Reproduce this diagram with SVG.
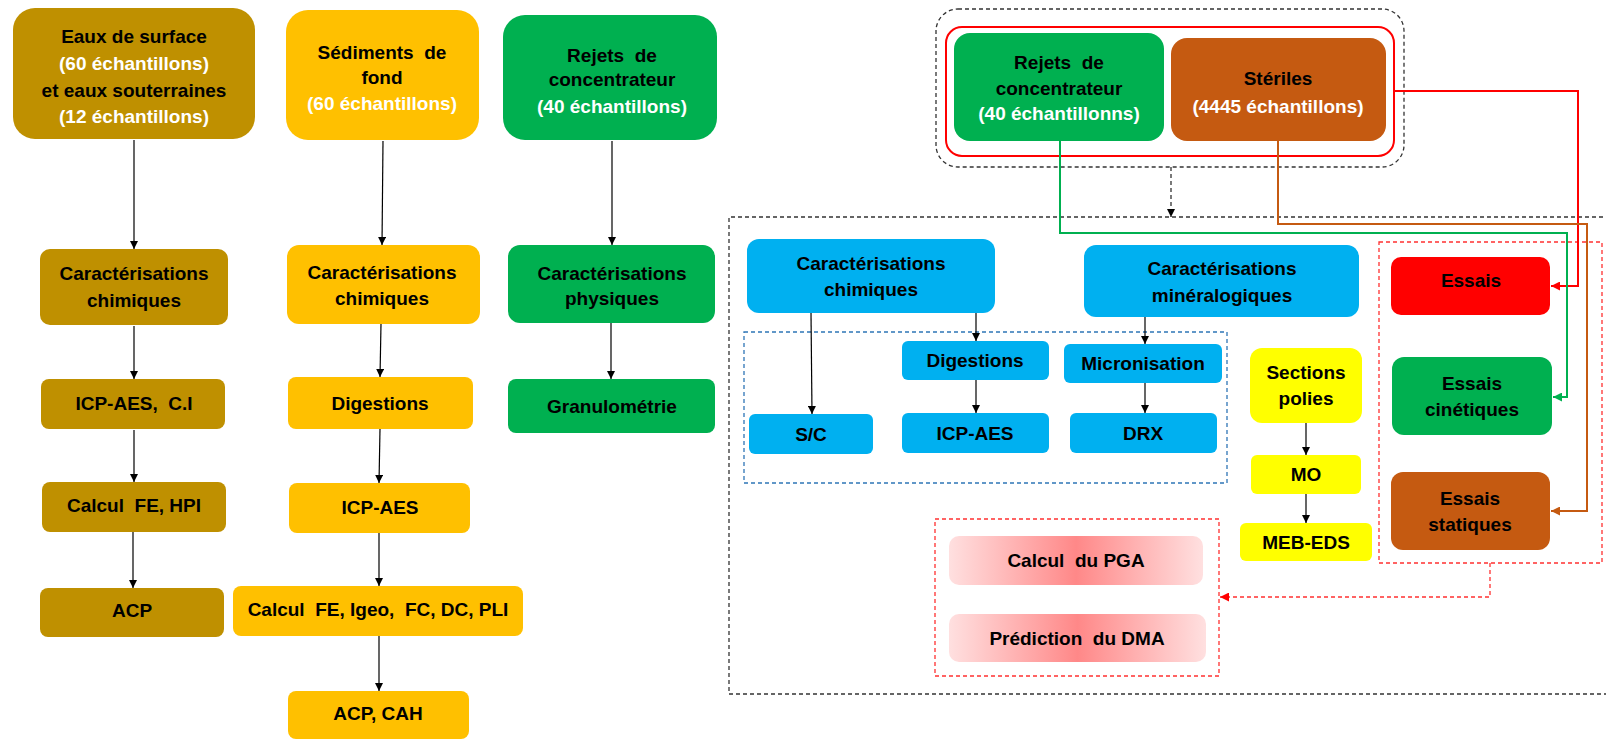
<svg xmlns="http://www.w3.org/2000/svg" width="1606" height="739" viewBox="0 0 1606 739">
<defs>
<style>
text{font-family:"Liberation Sans",Arial,sans-serif;font-weight:bold;font-size:19px;text-anchor:middle;fill:#000}
.w{fill:#fff}
.gold{fill:#BF9000}
.yel{fill:#FFC000}
.grn{fill:#00B050}
.blu{fill:#00B0F0}
.ylw{fill:#FFFF00}
.red{fill:#FF0000}
.brn{fill:#C55A11}
.pink{fill:url(#pinkg)}
.arr{stroke:#000;stroke-width:1.2;fill:none;marker-end:url(#ah)}
.dash{fill:none;stroke:#333;stroke-width:1.3;stroke-dasharray:4 3}
.rdash{fill:none;stroke:#FF3030;stroke-width:1.3;stroke-dasharray:4 3}
.bdash{fill:none;stroke:#2E75B6;stroke-width:1.3;stroke-dasharray:4 3}
</style>
<marker id="ah" viewBox="0 0 10 10" refX="10" refY="5" markerWidth="8" markerHeight="8" markerUnits="userSpaceOnUse" orient="auto"><path d="M0,0L10,5L0,10z" fill="#000"/></marker>
<marker id="ahr" viewBox="0 0 10 10" refX="10" refY="5" markerWidth="9" markerHeight="9" markerUnits="userSpaceOnUse" orient="auto"><path d="M0,0L10,5L0,10z" fill="#FF0000"/></marker>
<marker id="ahg" viewBox="0 0 10 10" refX="10" refY="5" markerWidth="9" markerHeight="9" markerUnits="userSpaceOnUse" orient="auto"><path d="M0,0L10,5L0,10z" fill="#00B050"/></marker>
<marker id="ahb" viewBox="0 0 10 10" refX="10" refY="5" markerWidth="9" markerHeight="9" markerUnits="userSpaceOnUse" orient="auto"><path d="M0,0L10,5L0,10z" fill="#C55A11"/></marker>
<linearGradient id="pinkg" x1="0" y1="0" x2="1" y2="0"><stop offset="0" stop-color="#FFE0E0"/><stop offset="0.5" stop-color="#FF8888"/><stop offset="1" stop-color="#FFE0E0"/></linearGradient>
</defs>

<!-- containers -->
<g id="containers">
<rect x="936" y="9" width="468" height="158" rx="22" class="dash"/>
<rect x="946" y="27" width="448" height="129" rx="16" fill="none" stroke="#FF0000" stroke-width="2"/>
<path d="M1610,217H729V694H1610" class="dash"/>
<rect x="744" y="332" width="483" height="151" class="bdash"/>
<rect x="1379" y="242" width="223" height="321" class="rdash"/>
<rect x="935" y="519" width="284" height="157" class="rdash"/>
</g>

<!-- left column 1 -->
<g id="eaux"><rect x="13" y="8" width="242" height="131" rx="22" class="gold"/>
<text x="134" y="43">Eaux de surface</text><text x="134" y="70" class="w">(60 échantillons)</text><text x="134" y="97">et eaux souterraines</text><text x="134" y="123" class="w">(12 échantillons)</text></g>
<g id="eaux-caract"><rect x="40" y="249" width="188" height="76" rx="10" class="gold"/><text x="134" y="280">Caractérisations</text><text x="134" y="307">chimiques</text></g>
<g id="eaux-icp"><rect x="41" y="379" width="184" height="50" rx="8" class="gold"/><text x="134" y="410" xml:space="preserve">ICP-AES,  C.I</text></g>
<g id="eaux-calcul"><rect x="42" y="482" width="184" height="50" rx="8" class="gold"/><text x="134" y="512" xml:space="preserve">Calcul  FE, HPI</text></g>
<g id="eaux-acp"><rect x="40" y="588" width="184" height="49" rx="8" class="gold"/><text x="132" y="617">ACP</text></g>

<!-- left column 2 -->
<g id="sed"><rect x="286" y="10" width="193" height="130" rx="22" class="yel"/>
<text x="382" y="59" xml:space="preserve">Sédiments  de</text><text x="382" y="84">fond</text><text x="382" y="110" class="w">(60 échantillons)</text></g>
<g id="sed-caract"><rect x="287" y="245" width="193" height="79" rx="12" class="yel"/><text x="382" y="279">Caractérisations</text><text x="382" y="305">chimiques</text></g>
<g id="sed-dig"><rect x="288" y="377" width="185" height="52" rx="8" class="yel"/><text x="380" y="410">Digestions</text></g>
<g id="sed-icp"><rect x="289" y="483" width="181" height="50" rx="8" class="yel"/><text x="380" y="514">ICP-AES</text></g>
<g id="sed-calcul"><rect x="233" y="586" width="290" height="50" rx="8" class="yel"/><text x="378" y="616" xml:space="preserve">Calcul  FE, Igeo,  FC, DC, PLI</text></g>
<g id="sed-acp"><rect x="288" y="691" width="181" height="48" rx="8" class="yel"/><text x="378" y="720">ACP, CAH</text></g>

<!-- left column 3 -->
<g id="rej"><rect x="503" y="15" width="214" height="125" rx="22" class="grn"/>
<text x="612" y="62" xml:space="preserve">Rejets  de</text><text x="612" y="86">concentrateur</text><text x="612" y="113" class="w">(40 échantillons)</text></g>
<g id="rej-caract"><rect x="508" y="245" width="207" height="78" rx="12" class="grn"/><text x="612" y="280">Caractérisations</text><text x="612" y="305">physiques</text></g>
<g id="rej-gran"><rect x="508" y="379" width="207" height="54" rx="8" class="grn"/><text x="612" y="413">Granulométrie</text></g>

<!-- right top -->
<g id="r-rejets"><rect x="954" y="33" width="210" height="108" rx="16" class="grn"/>
<text x="1059" y="69" xml:space="preserve">Rejets  de</text><text x="1059" y="95">concentrateur</text><text x="1059" y="120" class="w">(40 échantillonns)</text></g>
<g id="r-steriles"><rect x="1171" y="38" width="215" height="103" rx="16" class="brn"/>
<text x="1278" y="85">Stériles</text><text x="1278" y="113" class="w">(4445 échantillons)</text></g>

<!-- right inner -->
<g id="b-chim"><rect x="747" y="239" width="248" height="74" rx="12" class="blu"/><text x="871" y="270">Caractérisations</text><text x="871" y="296">chimiques</text></g>
<g id="b-min"><rect x="1084" y="245" width="275" height="72" rx="12" class="blu"/><text x="1222" y="275">Caractérisations</text><text x="1222" y="302">minéralogiques</text></g>
<g id="b-dig"><rect x="902" y="341" width="147" height="39" rx="6" class="blu"/><text x="975" y="367">Digestions</text></g>
<g id="b-micro"><rect x="1064" y="344" width="158" height="39" rx="6" class="blu"/><text x="1143" y="370">Micronisation</text></g>
<g id="b-sc"><rect x="749" y="414" width="124" height="40" rx="6" class="blu"/><text x="811" y="441">S/C</text></g>
<g id="b-icp"><rect x="902" y="413" width="147" height="40" rx="6" class="blu"/><text x="975" y="440">ICP-AES</text></g>
<g id="b-drx"><rect x="1070" y="413" width="147" height="40" rx="6" class="blu"/><text x="1143" y="440">DRX</text></g>

<g id="y-sec"><rect x="1250" y="348" width="112" height="75" rx="12" class="ylw"/><text x="1306" y="379">Sections</text><text x="1306" y="405">polies</text></g>
<g id="y-mo"><rect x="1251" y="455" width="110" height="39" rx="6" class="ylw"/><text x="1306" y="481">MO</text></g>
<g id="y-meb"><rect x="1240" y="523" width="132" height="38" rx="6" class="ylw"/><text x="1306" y="549">MEB-EDS</text></g>

<g id="e-essais"><rect x="1391" y="257" width="159" height="58" rx="10" class="red"/><text x="1471" y="287">Essais</text></g>
<g id="e-cin"><rect x="1392" y="357" width="160" height="78" rx="12" class="grn"/><text x="1472" y="390">Essais</text><text x="1472" y="416">cinétiques</text></g>
<g id="e-stat"><rect x="1391" y="472" width="159" height="78" rx="12" class="brn"/><text x="1470" y="505">Essais</text><text x="1470" y="531">statiques</text></g>

<g id="p-pga"><rect x="949" y="536" width="254" height="49" rx="10" class="pink"/><text x="1076" y="567" xml:space="preserve">Calcul  du PGA</text></g>
<g id="p-dma"><rect x="949" y="614" width="257" height="48" rx="10" class="pink"/><text x="1077" y="645" xml:space="preserve">Prédiction  du DMA</text></g>

<!-- connectors -->
<g id="connectors">
<path d="M134,140V249" class="arr"/>
<path d="M134,326V379" class="arr"/>
<path d="M134,430V482" class="arr"/>
<path d="M133,532V588" class="arr"/>
<path d="M383,141L382,245" class="arr"/>
<path d="M381,324L380,377" class="arr"/>
<path d="M380,429L379,483" class="arr"/>
<path d="M379,533V586" class="arr"/>
<path d="M379,636V691" class="arr"/>
<path d="M612,141V245" class="arr"/>
<path d="M611,323V379" class="arr"/>

<path d="M811,313L812,414" class="arr"/>
<path d="M976,313V341" class="arr"/>
<path d="M976,380V413" class="arr"/>
<path d="M1145,317V344" class="arr"/>
<path d="M1145,383V413" class="arr"/>
<path d="M1306,423V455" class="arr"/>
<path d="M1306,494V523" class="arr"/>

<path d="M1171,167V217" class="dash" marker-end="url(#ah)"/>

<path d="M1394,91H1578V286H1551" fill="none" stroke="#FF0000" stroke-width="2" marker-end="url(#ahr)"/>
<path d="M1060,141V233H1567V397H1553" fill="none" stroke="#00B050" stroke-width="2" marker-end="url(#ahg)"/>
<path d="M1278,141V224H1587V511H1551" fill="none" stroke="#C55A11" stroke-width="2" marker-end="url(#ahb)"/>
<path d="M1490,563V597H1220" class="rdash" stroke="#FF0000" marker-end="url(#ahr)"/>
</g>
</svg>
